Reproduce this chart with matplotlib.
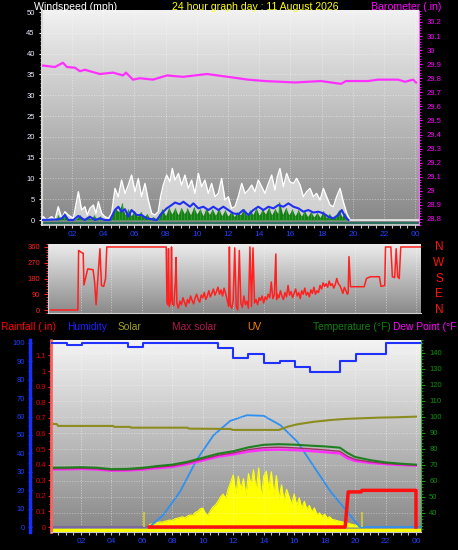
import matplotlib
matplotlib.use('Agg')
import matplotlib.pyplot as plt
from matplotlib.colors import LinearSegmentedColormap
from matplotlib.ticker import MultipleLocator, FixedLocator
import numpy as np

plt.rcParams['font.family'] = ['Liberation Sans', 'DejaVu Sans']

# ---------------- data ----------------
hour_ticks = [2, 4, 6, 8, 10, 12, 14, 16, 18, 20, 22, 24]
hour_labels = ['02', '04', '06', '08', '10', '12', '14', '16', '18', '20', '22', '00']

# wind gusts (white), mph
gust_hours = [0, 0.16, 0.38, 0.7, 0.91, 1.12, 1.34, 1.55, 1.76, 2.09, 2.41, 2.62, 2.83, 2.98,
              3.15, 3.37, 3.54, 3.69, 3.9, 4.11, 4.33, 4.54, 4.76, 4.97, 5.18, 5.4, 5.61, 5.82,
              6.04, 6.25, 6.46, 6.68, 6.89, 7.11, 7.32, 7.53, 7.68, 7.85, 8.07, 8.28, 8.43, 8.6,
              8.82, 9.03, 9.24, 9.46, 9.67, 9.88, 10.1, 10.31, 10.52, 10.74, 10.95, 11.17, 11.38,
              11.59, 11.81, 12.02, 12.23, 12.45, 12.66, 12.88, 13.09, 13.3, 13.52, 13.73, 13.94,
              14.16, 14.37, 14.59, 14.8, 15.01, 15.16, 15.33, 15.55, 15.76, 15.97, 16.19, 16.4,
              16.62, 16.83, 17.04, 17.26, 17.47, 17.68, 17.9, 18.11, 18.32, 18.54, 18.75, 18.96,
              19.18, 19.39, 19.61, 19.82, 24.3]
gust = [0, 0.8, 0, 0.8, 0, 3.2, 0.4, 2.0, 1.2, 0.4, 6.8, 2.4, 3.2, 1.2,
        2.8, 3.6, 1.6, 4.4, 1.6, 0.8, 0.4, 1.6, 7.6, 5.6, 9.6, 6.4, 8.4, 10.8,
        6.8, 10.0, 5.6, 8.8, 4.8, 1.6, 1.2, 2.0, 5.6, 8.4, 10.8, 9.2, 12.4, 9.6,
        11.2, 8.4, 10.8, 7.6, 9.6, 6.4, 11.2, 8.0, 9.6, 6.4, 8.8, 5.6, 6.4,
        10.0, 4.8, 5.6, 2.8, 3.2, 5.6, 8.8, 6.4, 7.2, 8.4, 6.8, 9.6,
        8.0, 6.4, 8.8, 10.8, 7.2, 10.4, 12.4, 8.0, 11.2, 9.2, 8.8, 10.0,
        8.4, 5.6, 6.8, 7.6, 5.6, 6.4, 4.8, 7.6, 5.6, 3.6, 3.2, 5.6,
        7.6, 4.4, 1.6, 0, 0]

# average wind (blue line), mph
avg_hours = [0, 1.12, 1.34, 1.55, 1.76, 2.09, 2.41, 2.62, 2.83, 3.15, 3.47, 3.79, 4.11, 4.44,
             4.76, 4.97, 5.18, 5.4, 5.61, 5.82, 6.15, 6.46, 6.79, 7.11, 7.43, 7.75, 8.07, 8.39,
             8.6, 8.92, 9.14, 9.35, 9.56, 9.78, 10.1, 10.42, 10.74, 11.06, 11.38, 11.7, 12.02,
             12.34, 12.66, 12.98, 13.3, 13.62, 13.94, 14.27, 14.59, 14.91, 15.23, 15.55, 15.87,
             16.19, 16.51, 16.83, 17.15, 17.47, 17.79, 18.11, 18.43, 18.75, 19.07, 19.29, 19.5,
             19.72]
avg_wind = [0, 0.16, 0.4, 1.2, 0, 0, 1.0, 0.4, 0, 0.8, 0, 0.4, 0, 0,
            2.4, 3.2, 2.0, 2.6, 0.8, 2.4, 1.2, 1.2, 0.4, 0.2, 0, 1.6, 2.8, 3.6,
            4.2, 3.8, 4.4, 3.8, 3.2, 4.0, 2.8, 3.2, 2.4, 3.2, 2.4, 3.2, 2.4,
            1.6, 1.4, 2.4, 1.2, 2.4, 3.2, 2.4, 3.2, 2.8, 3.6, 3.2, 4.0,
            3.2, 2.8, 2.0, 2.4, 1.8, 2.0, 1.6, 0.8, 0.4, 1.2, 2.4, 0.8,
            0]

# wind speed (green bars), mph
wind_hours = [0, 1.0, 1.1, 1.25, 1.5, 1.75, 2.0, 2.25, 2.5, 2.75, 3.0, 3.25, 3.4, 3.6, 3.8,
              4.0, 4.25, 4.5, 4.75, 5.0, 5.2, 5.4, 5.6, 5.8, 6.0, 6.2, 6.4, 6.6, 6.8, 7.0, 7.2,
              7.4, 7.6, 7.8, 8.0, 8.2, 8.4, 8.6, 8.8, 9.0, 9.2, 9.4, 9.6, 9.8, 10.0, 10.2, 10.4,
              10.6, 10.8, 11.0, 11.2, 11.4, 11.6, 11.8, 12.0, 12.2, 12.4, 12.6, 12.8, 13.0, 13.2,
              13.4, 13.6, 13.8, 14.0, 14.2, 14.4, 14.6, 14.8, 15.0, 15.2, 15.3, 15.5, 15.7, 15.9,
              16.1, 16.3, 16.5, 16.7, 16.9, 17.1, 17.3, 17.5, 17.7, 17.9, 18.1, 18.3, 18.5, 18.7,
              18.9, 19.1, 19.3, 19.5, 19.7]
wind = [0, 0.3, 1.2, 0.2, 1.6, 0.3, 0, 0.2, 1.2, 0.3, 0.8, 0.2, 1.2, 0.2, 0.9,
        0.1, 0, 0.3, 2.8, 2.0, 4.0, 1.2, 2.6, 1.0, 2.2, 0.8, 2.0, 0.6, 1.5, 0.3, 0.8,
        0.2, 1.5, 2.6, 1.0, 3.0, 1.4, 2.9, 1.2, 3.0, 1.5, 2.8, 1.2, 3.1, 1.4, 2.7, 1.0,
        2.9, 1.3, 2.6, 1.1, 2.8, 1.0, 2.4, 0.9, 2.1, 0.8, 2.0, 1.2, 2.6, 1.0,
        2.4, 1.3, 2.9, 1.1, 2.6, 1.4, 3.0, 1.2, 2.7, 1.5, 4.3, 1.3, 3.0, 1.2,
        2.6, 1.0, 2.4, 0.9, 2.2, 0.8, 2.0, 0.7, 1.8, 0.6, 2.2, 0.5, 1.5, 0.4,
        1.2, 2.4, 0.8, 1.6, 0]

# barometer, inHg
baro_hours = [0.14, 0.91, 1.42, 1.68, 2.19, 2.51, 2.83, 3.79, 4.63, 5.27, 5.46, 5.91, 6.36, 7.19,
              8.09, 9.12, 10.65, 12.0, 13.28, 14.37, 16.29, 17.96, 19.24, 19.56, 20.97, 21.62,
              22.9, 23.35, 23.86, 24.05]
baro = [29.89, 29.88, 29.91, 29.88, 29.875, 29.85, 29.86, 29.83, 29.84, 29.82, 29.84, 29.79, 29.80,
        29.79, 29.82, 29.81, 29.83, 29.81, 29.79, 29.78, 29.77, 29.78, 29.76, 29.78, 29.78, 29.79,
        29.79, 29.775, 29.79, 29.77]

# wind direction, degrees
dir_hours = [0.0, 1.8, 1.85, 2.1, 2.15, 2.2, 2.3, 2.45, 2.8, 2.9, 3.0, 3.1, 3.25, 3.35, 3.5, 3.62,
             3.7, 7.6, 7.65, 7.7, 7.75, 7.8, 7.9, 7.95, 8.0, 8.1, 8.2, 8.25, 8.3, 8.4, 8.5, 8.6,
             8.7, 8.8, 8.9, 9.0, 9.1, 9.2, 9.3, 9.4, 9.5, 9.6, 9.7, 9.8, 9.9, 10.0, 10.1, 10.2,
             10.3, 10.4, 10.5, 10.6, 10.7, 10.8, 10.9, 11.0, 11.1, 11.2, 11.3, 11.4, 11.5, 11.6,
             11.7, 11.75, 11.8, 11.9, 12.0, 12.1, 12.2, 12.3, 12.4, 12.5, 12.6, 12.7, 12.8, 12.9,
             13.0, 13.1, 13.2, 13.3, 13.4, 13.5, 13.6, 13.7, 13.8, 13.9, 14.0, 14.1, 14.2, 14.3,
             14.4, 14.5, 14.6, 14.7, 14.8, 14.85, 14.9, 15.0, 15.1, 15.2, 15.3, 15.4, 15.5, 15.6,
             15.7, 15.8, 15.9, 16.0, 16.1, 16.2, 16.3, 16.4, 16.5, 16.6, 16.7, 16.8, 16.9, 17.0,
             17.1, 17.2, 17.3, 17.4, 17.5, 17.6, 17.7, 17.8, 17.9, 18.0, 18.1, 18.2, 18.3, 18.4,
             18.5, 18.6, 18.7, 18.8, 18.9, 19.0, 19.1, 19.2, 19.3, 19.5, 19.55, 19.6, 19.7, 20.6,
             20.75, 21.0, 21.6, 21.7, 21.95, 22.0, 22.35, 22.45, 22.6, 22.7, 22.8, 22.9, 23.0, 24.3]
direction = [0, 0, 340, 325, 325, 143, 180, 235, 230, 160, 30, 165, 350, 140, 135, 180,
             360, 360, 45, 30, 350, 20, 60, 360, 35, 25, 160, 300, 40, 10, 50, 30,
             70, 45, 20, 60, 40, 80, 55, 35, 70, 90, 60, 45, 85, 70, 100, 60,
             80, 110, 75, 95, 120, 85, 105, 130, 90, 115, 80, 125, 95, 60,
             20, 360, 30, 10, 50, 355, 20, 0, 340, 40, 15, 80, 30, 50,
             10, 360, 20, 355, 40, 60, 30, 70, 55, 80, 40, 75, 60, 90,
             70, 160, 65, 85, 320, 60, 90, 70, 110, 80, 60, 100, 75, 140,
             85, 105, 70, 95, 120, 80, 100, 65, 110, 90, 125, 85, 100, 75,
             115, 95, 130, 90, 110, 100, 140, 120, 155, 135, 150, 130, 165, 140,
             150, 125, 145, 180, 150, 140, 120, 95, 130, 90, 100, 305, 133, 133,
             180, 190, 190, 135, 140, 360, 360, 190, 185, 350, 190, 180, 360, 360]
compass = ['N', 'W', 'S', 'E', 'N']
compass_deg = [360, 270, 180, 90, 0]

# humidity, %
hum_hours = [0, 1.08, 2.07, 5.09, 6.07, 11.0, 12.0, 13.0, 14.0, 15.05, 16.05, 17.05, 19.0, 20.05,
             22.0, 24.3]
humidity = [100, 99, 100, 98, 100, 97, 92, 94, 89, 90, 87, 84, 90, 94, 100, 100]

# temperatures, F
temp_hours = [0, 1, 2, 3, 4, 5, 6, 7, 8, 9, 10, 11, 12, 13, 14, 15, 16, 17, 18, 19, 19.5, 20,
              21, 22, 23, 24]
temperature = [68.3, 68.4, 68.6, 68.3, 67.4, 67.5, 68.2, 69.3, 70.2, 72.0, 74.5, 77.0, 78.6,
               81.0, 82.6, 83.0, 82.7, 82.1, 81.6, 80.8, 77.5, 75.0, 73.0, 71.6, 70.8, 70.2]
apparent = [67.6, 67.7, 67.9, 67.6, 66.8, 66.9, 67.5, 68.6, 69.4, 71.2, 73.6, 76.0, 77.5,
            79.6, 80.8, 81.1, 80.7, 80.1, 79.4, 78.5, 75.4, 73.4, 71.9, 70.9, 70.3, 69.8]
dew_point = [67.2, 67.3, 67.5, 67.2, 66.4, 66.5, 67.1, 68.0, 68.8, 70.5, 72.8, 75.2, 76.6,
             78.4, 79.4, 79.6, 79.3, 78.8, 78.0, 77.2, 74.2, 72.5, 71.3, 70.5, 70.0, 69.6]
indoor_hours = [0, 0.4, 0.5, 4.1, 4.2, 5.2, 5.3, 9.0, 9.1, 11.8, 12.0, 15.0, 15.6, 16.2, 17.3,
                18.4, 19.4, 20.5, 21.6, 22.7, 24.0]
indoor = [95.6, 95.6, 94.4, 94.4, 93.8, 93.8, 93.3, 93.3, 92.7, 92.5, 91.9, 91.9, 94.0, 95.4,
          97.0, 98.1, 98.8, 99.2, 99.6, 99.8, 100.2]

# solar radiation, W/m2
solar_hours = [6.45, 6.5, 6.67, 6.83, 7.0, 7.17, 7.33, 7.5, 7.67, 7.83, 8.0, 8.17, 8.33, 8.5,
               8.67, 8.83, 9.0, 9.17, 9.33, 9.5, 9.67, 9.83, 10.0, 10.17, 10.33, 10.5, 10.67,
               10.83, 11.0, 11.17, 11.33, 11.5, 11.67, 11.83, 12.0, 12.17, 12.33, 12.5, 12.67,
               12.83, 13.0, 13.17, 13.33, 13.5, 13.67, 13.83, 14.0, 14.17, 14.33, 14.5, 14.67,
               14.83, 15.0, 15.17, 15.33, 15.5, 15.67, 15.83, 16.0, 16.17, 16.33, 16.5, 16.67,
               16.83, 17.0, 17.17, 17.33, 17.5, 17.67, 17.83, 18.0, 18.17, 18.33, 18.5, 18.67,
               18.83, 19.0, 19.17, 19.33, 19.5, 19.67, 19.83, 20.0, 20.17, 20.33]
solar = [0, 20, 25, 30, 35, 40, 38, 45, 50, 55, 52, 65, 70, 75,
         82, 72, 88, 96, 92, 115, 125, 145, 150, 110, 92, 130, 160,
         175, 205, 240, 262, 228, 305, 355, 415, 262, 405, 300, 385,
         250, 425, 330, 455, 280, 470, 232, 405, 445, 300, 440, 252,
         410, 222, 335, 205, 300, 240, 182, 262, 170, 232, 150, 205,
         140, 172, 120, 152, 100, 112, 85, 102, 70, 82, 60, 56,
         50, 45, 40, 35, 30, 25, 20, 15, 10, 0]
maxsol_hours = [6.5, 7.4, 8.5, 9.6, 10.7, 11.8, 12.9, 14.0, 15.1, 16.2, 17.3, 18.4, 19.5, 20.3,
                24.3]
max_solar = [0, 95, 280, 535, 730, 845, 890, 885, 810, 680, 480, 280, 120, 0, 0]
sun_marks = [6.15, 20.45]

# rainfall, in
rain_hours = [6.5, 19.35, 19.55, 20.4, 20.45, 24.0, 24.0]
rain = [0, 0, 0.225, 0.225, 0.235, 0.235, 0]

# ---------------- figure ----------------
W, H = 458, 550
fig = plt.figure(figsize=(W / 100, H / 100), dpi=100, facecolor='black')


def box(x0, y0, x1, y1):
    return [x0 / W, 1 - y1 / H, (x1 - x0) / W, (y1 - y0) / H]


def pt(px):
    return px * 72 / 100


def backdrop(rect, top, bottom):
    bg = fig.add_axes(rect, zorder=0)
    cmap = LinearSegmentedColormap.from_list('bg', [top, bottom])
    bg.imshow(np.linspace(0, 1, 256).reshape(-1, 1), cmap=cmap, aspect='auto',
              extent=[0, 1, 0, 1], origin='upper')
    bg.set_xlim(0, 1)
    bg.set_ylim(0, 1)
    bg.axis('off')
    return bg


def hide_spines(ax):
    for s in ax.spines.values():
        s.set_visible(False)


def ftext(x, y, s, color, size=7.6, **kw):
    fig.text(x / W, 1 - y / H, s, color=color, fontsize=size, va='center', **kw)


# header row
ftext(34, 7, 'Windspeed (mph)', 'white')
ftext(172, 7, '24 hour graph day : 11 August 2026', '#ffff00')
ftext(371, 7, 'Barometer (.in)', '#ff00ff')

# ---- panel 1: wind and barometer ----
r1 = box(42, 10, 419, 225)
backdrop(r1, '#f2f2f2', '#868686')
ax1 = fig.add_axes(r1, zorder=1)
ax1.patch.set_alpha(0)
hide_spines(ax1)
ax1.set_xlim(0.08, 24.24)
ax1.set_ylim(-1.2, 50.5)
ax1.spines['left'].set_visible(True)
ax1.spines['left'].set_color('#d8d8d8')
ax1.spines['left'].set_linewidth(1.5)
ax1.spines['bottom'].set_visible(True)
ax1.spines['bottom'].set_color('#d8d8d8')
ax1.spines['bottom'].set_linewidth(1.2)
ax1.xaxis.set_major_locator(FixedLocator(hour_ticks))
ax1.set_xticklabels(hour_labels)
ax1.xaxis.set_minor_locator(MultipleLocator(0.5))
ax1.yaxis.set_major_locator(MultipleLocator(5))
ax1.yaxis.set_minor_locator(MultipleLocator(1))
ax1.tick_params(axis='x', which='both', colors='#c8c8c8', labelcolor='#2040ff', labelsize=6,
                length=pt(3), width=0.8, pad=2)
ax1.tick_params(axis='y', which='major', colors='white', labelcolor='#e8eeff', labelsize=5.5,
                length=pt(3), width=0.8, pad=3)
ax1.tick_params(axis='y', which='minor', colors='#c0c0c0', length=pt(2), width=0.6)
ax1.grid(True, which='major', color='white', ls=':', lw=0.7, alpha=0.45)
ax1.set_axisbelow(True)

ax1.plot([0.08, 24.24], [-0.75, -0.75], color='#2e7060', lw=2.2, zorder=2)
ax1.fill_between(gust_hours, gust, 0, color='white', alpha=0.6, lw=0, zorder=2)
ax1.plot(gust_hours, gust, color='white', lw=1.0, zorder=3)
ax1.fill_between(wind_hours, wind, 0, color='#1a7a1a', lw=0, zorder=4)
ax1.vlines(wind_hours, 0, wind, color='#22a022', lw=0.9, zorder=4)
ax1.plot(avg_hours, avg_wind, color='#2030f0', lw=1.5, zorder=5)

ax1b = ax1.twinx()
hide_spines(ax1b)
ax1b.spines['right'].set_visible(True)
ax1b.spines['right'].set_color('#ff60ff')
ax1b.spines['right'].set_linestyle((0, (1, 1)))
ax1b.set_ylim(28.757, 30.285)
ax1b.yaxis.set_major_locator(MultipleLocator(0.1))
ax1b.yaxis.set_minor_locator(MultipleLocator(0.02))
ax1b.yaxis.set_major_formatter(lambda v, p: '%g' % round(v, 1))
ax1b.tick_params(axis='y', which='major', colors='#ff00ff', labelsize=5.5, length=pt(3),
                 width=0.8, pad=3)
ax1b.tick_params(axis='y', which='minor', colors='#ff00ff', length=pt(2), width=0.6)
ax1b.plot(baro_hours, baro, color='#ff30ff', lw=1.6)

# ---- panel 2: wind direction ----
r2 = box(48, 244, 421, 313)
backdrop(r2, '#ececec', '#8a8a8a')
ax2 = fig.add_axes(r2, zorder=1)
ax2.patch.set_alpha(0)
hide_spines(ax2)
ax2.spines['left'].set_visible(True)
ax2.spines['left'].set_color('#d0d0d0')
ax2.spines['bottom'].set_visible(True)
ax2.spines['bottom'].set_color('#d0d0d0')
ax2.set_xlim(-0.16, 24.33)
ax2.set_ylim(-17, 377)
ax2.set_xticks(hour_ticks)
ax2.tick_params(axis='x', length=0, labelbottom=False)
ax2.yaxis.set_major_locator(FixedLocator(compass_deg))
ax2.yaxis.set_minor_locator(MultipleLocator(15))
ax2.tick_params(axis='y', which='major', colors='#ff2020', labelsize=5.5, length=pt(4),
                width=0.8, pad=3)
ax2.tick_params(axis='y', which='minor', colors='#ff4040', length=pt(2), width=0.6)
ax2.grid(True, axis='x', color='white', ls=':', lw=0.7, alpha=0.5)
ax2.plot(dir_hours, direction, color='#ff2020', lw=1.1)
for letter, deg in zip(compass, compass_deg):
    yy = ax2.transData.transform((0, deg))[1]
    fig.text(439 / W, yy / fig.bbox.height, letter, color='#ff1010', fontsize=8.5,
             ha='center', va='center')

# legend row
ftext(1, 327, 'Rainfall (.in)', '#ff0000', size=7.4)
ftext(67, 327, 'Humidity', '#2020ff', size=7.4)
ftext(118, 327, 'Solar', '#a0a020', size=7.4)
ftext(172, 327, 'Max solar', '#b01850', size=7.4)
ftext(247, 327, 'UV', '#ff8000', size=7.4)
ftext(313, 327, 'Temperature (\u00b0F)', '#108010', size=7.4)
ftext(393, 327, 'Dew Point (\u00b0F', '#ff00ff', size=7.4)

# ---- panel 3: rain, humidity, solar, temperature ----
r3 = box(51, 340, 421, 532)
backdrop(r3, '#f4f4f4', '#888888')

ax_sol = fig.add_axes(r3, zorder=1)
ax_sol.patch.set_alpha(0)
hide_spines(ax_sol)
ax_sol.set_xlim(0.03, 24.33)
ax_sol.set_ylim(-40, 1489)
ax_sol.set_yticks([])
ax_sol.set_xticks(hour_ticks)
ax_sol.tick_params(axis='x', length=0, labelbottom=False)
ax_sol.grid(True, axis='x', color='white', ls=':', lw=0.7, alpha=0.5)
ax_sol.fill_between(solar_hours, solar, 0, color='#ffff00', lw=0)
ax_sol.plot(solar_hours, solar, color='#ffff00', lw=0.8)
ax_sol.plot([0.03, maxsol_hours[0]], [0, 0], color='#7a68a0', lw=1.5)
ax_sol.plot(maxsol_hours, max_solar, color='#3090f0', lw=1.3)
ax_sol.vlines(sun_marks, 0, 122, color='#c8c040', lw=1.5)

ax_t = fig.add_axes(r3, zorder=2)
ax_t.patch.set_alpha(0)
hide_spines(ax_t)
ax_t.set_xlim(0.03, 24.33)
ax_t.set_ylim(28.1, 148.1)
ax_t.xaxis.set_visible(False)
ax_t.yaxis.tick_right()
ax_t.spines['right'].set_visible(True)
ax_t.spines['right'].set_color('#40a040')
ax_t.spines['right'].set_linestyle((0, (1, 1)))
ax_t.yaxis.set_minor_locator(MultipleLocator(2))
ax_t.set_yticks(range(40, 141, 10))
ax_t.tick_params(axis='y', which='major', colors='#10a010', labelcolor='#109010',
                 labelsize=5.5, length=pt(4), width=0.8, pad=3)
ax_t.tick_params(axis='y', which='minor', colors='#10a010', length=pt(2), width=0.6)
ax_t.grid(True, axis='y', color='white', ls=':', lw=0.7, alpha=0.4)
ax_t.plot(indoor_hours, indoor, color='#8c8c20', lw=1.5)
ax_t.plot(temp_hours, dew_point, color='#ff30ff', lw=1.8)
ax_t.plot(temp_hours, apparent, color='#a03068', lw=1.0)
ax_t.plot(temp_hours, temperature, color='#208020', lw=1.5)

ax_r = fig.add_axes(r3, zorder=3)
ax_r.patch.set_alpha(0)
hide_spines(ax_r)
ax_r.set_xlim(0.03, 24.33)
ax_r.set_ylim(-0.032, 1.199)
ax_r.xaxis.set_visible(False)
ax_r.spines['left'].set_visible(True)
ax_r.spines['left'].set_color('#ff6060')
ax_r.spines['left'].set_linewidth(2)
ax_r.spines['left'].set_linestyle((0, (1.5, 1)))
ax_r.yaxis.set_major_locator(MultipleLocator(0.1))
ax_r.yaxis.set_minor_locator(MultipleLocator(0.05))
ax_r.yaxis.set_major_formatter(lambda v, p: '%g' % round(v, 1))
ax_r.tick_params(axis='y', which='major', colors='#ff2020', labelcolor='#e00000',
                 labelsize=5.5, length=pt(3), width=0.8, pad=1.5)
ax_r.tick_params(axis='y', which='minor', colors='#ff4040', length=pt(2), width=0.6)
ax_r.plot([0.03, 24.33], [-0.019, -0.019], color='#ffff00', lw=2.5)
ax_r.plot(rain_hours, rain, color='#ff1010', lw=2.5)

ax3 = fig.add_axes(r3, zorder=4)
ax3.patch.set_alpha(0)
hide_spines(ax3)
ax3.set_xlim(0.03, 24.33)
ax3.set_ylim(-2.7, 101.6)
ax3.spines['left'].set_visible(True)
ax3.spines['left'].set_position(('outward', pt(21)))
ax3.spines['left'].set_color('#1830ff')
ax3.spines['left'].set_linewidth(2.5)
ax3.spines['bottom'].set_visible(True)
ax3.spines['bottom'].set_color('#c8c8c8')
ax3.yaxis.set_major_locator(MultipleLocator(10))
ax3.yaxis.set_minor_locator(MultipleLocator(5))
ax3.tick_params(axis='y', which='major', colors='#2040ff', labelsize=5.5, length=pt(4),
                width=0.8, pad=2, direction='inout')
ax3.tick_params(axis='y', which='minor', colors='#2040ff', length=pt(2), width=0.6)
ax3.xaxis.set_major_locator(FixedLocator(hour_ticks))
ax3.set_xticklabels(hour_labels)
ax3.xaxis.set_minor_locator(MultipleLocator(0.5))
ax3.tick_params(axis='x', which='both', colors='#c0c0c0', labelcolor='#2040ff', labelsize=6,
                length=pt(3), width=0.8, pad=2)
ax3.plot(hum_hours, humidity, color='#2030ff', lw=1.5, drawstyle='steps-post')

fig.savefig('out.png', dpi=100, facecolor='black')
